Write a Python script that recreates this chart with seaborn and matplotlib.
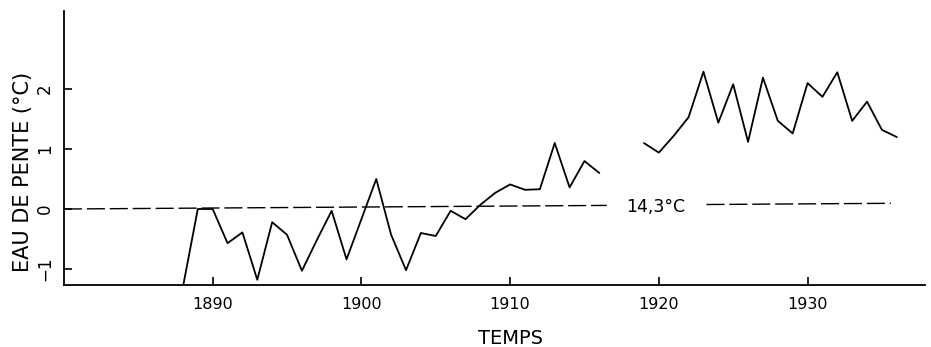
import numpy as np
import pandas as pd
import seaborn as sns
import matplotlib.pyplot as plt

# lecture du graphique : écart à la moyenne 14,3 °C
annees_a = [1888, 1889, 1890, 1891, 1892, 1893, 1894, 1895, 1896, 1897, 1898,
            1899, 1900, 1901, 1902, 1903, 1904, 1905, 1906, 1907, 1908, 1909,
            1910, 1911, 1912, 1913, 1914, 1915, 1916]
ecart_a = [-1.3, 0.0, 0.0, -0.57, -0.39, -1.18, -0.22, -0.43, -1.03, -0.52, -0.03,
           -0.84, -0.17, 0.5, -0.43, -1.02, -0.4, -0.45, -0.03, -0.17, 0.07, 0.27,
           0.41, 0.32, 0.33, 1.1, 0.36, 0.8, 0.6]

annees_b = [1919, 1920, 1921, 1922, 1923, 1924, 1925, 1926, 1927, 1928, 1929,
            1930, 1931, 1932, 1933, 1934, 1935, 1936]
ecart_b = [1.1, 0.94, 1.22, 1.53, 2.29, 1.44, 2.08, 1.12, 2.19, 1.47, 1.26,
           2.1, 1.87, 2.28, 1.47, 1.79, 1.32, 1.2]

# ligne de référence (14,3 °C), coupée par l'étiquette
ref_x1 = [1880, 1916.5]
ref_y1 = [0.0, 0.06]
ref_x2 = [1923.2, 1935.6]
ref_y2 = [0.075, 0.095]
ref_label = "14,3°C"

xticks = [1890, 1900, 1910, 1920, 1930]
yticks = [-1, 0, 1, 2]

sns.set_style("ticks")
plt.rcParams['font.family'] = ['DejaVu Sans']
plt.rcParams['text.color'] = 'black'
plt.rcParams['axes.labelcolor'] = 'black'
plt.rcParams['xtick.color'] = 'black'
plt.rcParams['ytick.color'] = 'black'

df_a = pd.DataFrame({"annee": annees_a, "ecart": ecart_a})
df_b = pd.DataFrame({"annee": annees_b, "ecart": ecart_b})

fig = plt.figure(figsize=(9.31, 3.47), dpi=100)
ax = fig.add_axes([0.0687, 0.1787, 0.9249, 0.7893])

sns.lineplot(x="annee", y="ecart", data=df_a, color="black", lw=1.3, ax=ax)
sns.lineplot(x="annee", y="ecart", data=df_b, color="black", lw=1.3, ax=ax)

# tirets longs
dash = (0, (13, 3.5))
ax.plot(ref_x1, ref_y1, color="black", lw=1.0, linestyle=dash)
ax.plot(ref_x2, ref_y2, color="black", lw=1.0, linestyle=dash)
ax.text(1919.8, 0.04, ref_label, ha="center", va="center", fontsize=12.5,
        color="black")

ax.set_xlim(1880, 1937.9)
ax.set_ylim(-1.267, 3.3)
ax.set_xticks(xticks)
ax.set_yticks(yticks)
ax.set_xticklabels([str(v) for v in xticks], fontsize=11.5)
ax.set_yticklabels([str(v).replace("-", "−") for v in yticks], fontsize=12,
                   rotation=90, va="center")
ax.tick_params(direction="in", length=6, width=1.2, colors="black")
ax.tick_params(axis="x", pad=9)
ax.tick_params(axis="y", pad=7)

ax.set_xlabel("TEMPS", fontsize=14)
ax.set_ylabel("EAU DE PENTE (°C)", fontsize=15)
ax.xaxis.set_label_coords(0.518, -0.16)
ax.yaxis.set_label_coords(-0.036, 0.412)

sns.despine(ax=ax)
for s in ["left", "bottom"]:
    ax.spines[s].set_linewidth(1.3)
    ax.spines[s].set_color("black")

fig.savefig("out.png", dpi=100)
